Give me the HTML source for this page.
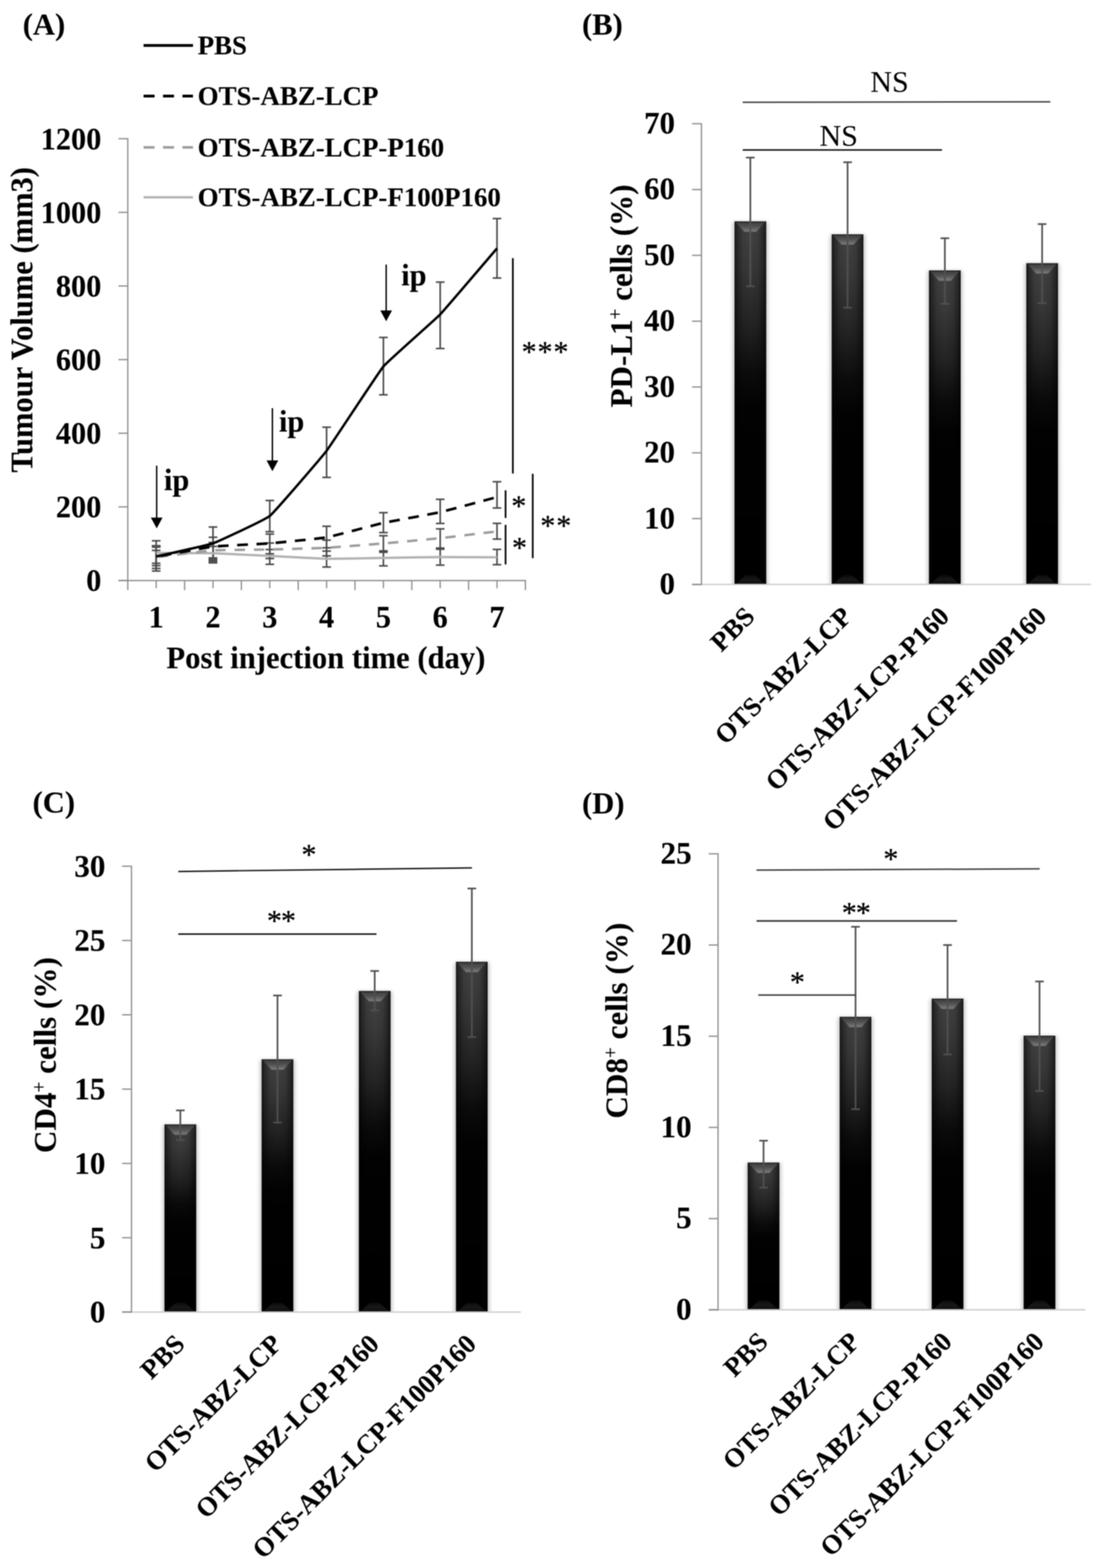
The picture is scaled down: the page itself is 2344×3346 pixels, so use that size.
<!DOCTYPE html>
<html lang="en">
<head>
<meta charset="utf-8">
<title>Figure: tumour volume and immune cell populations</title>
<style>
html, body { margin: 0; padding: 0; background: #ffffff; }
body { width: 2344px; height: 3346px; overflow: hidden; }
svg { display: block; filter: blur(0.8px); font-family: "Liberation Serif", serif; }
svg text { font-family: "Liberation Serif", serif; }
</style>
</head>
<body>
<svg width="2344" height="3346" viewBox="0 0 2344 3346">
<defs>
<linearGradient id="bg" x1="0" y1="0" x2="0" y2="1">
<stop offset="0" stop-color="#444444"/><stop offset="0.12" stop-color="#3a3a3a"/><stop offset="0.28" stop-color="#242424"/><stop offset="0.42" stop-color="#0b0b0b"/><stop offset="0.52" stop-color="#020202"/><stop offset="1" stop-color="#000"/>
</linearGradient>
<linearGradient id="bh" x1="0" y1="0" x2="1" y2="0">
<stop offset="0" stop-color="#000" stop-opacity="0.8"/><stop offset="0.06" stop-color="#000" stop-opacity="0.45"/><stop offset="0.25" stop-color="#000" stop-opacity="0.1"/><stop offset="0.5" stop-color="#000" stop-opacity="0"/><stop offset="0.75" stop-color="#000" stop-opacity="0.1"/><stop offset="0.94" stop-color="#000" stop-opacity="0.45"/><stop offset="1" stop-color="#000" stop-opacity="0.8"/>
</linearGradient>
<linearGradient id="bv" x1="0" y1="0" x2="0" y2="1">
<stop offset="0" stop-color="#3c3c3c"/><stop offset="0.45" stop-color="#505050"/><stop offset="1" stop-color="#7c7c7c"/>
</linearGradient>
<linearGradient id="bb" x1="0" y1="0" x2="0" y2="1">
<stop offset="0" stop-color="#0a0a0a"/><stop offset="0.5" stop-color="#181818"/><stop offset="1" stop-color="#0e0e0e"/>
</linearGradient>
<filter id="sh" x="-30%" y="-5%" width="160%" height="110%"><feGaussianBlur stdDeviation="4"/></filter>
</defs>
<rect x="0" y="0" width="2344" height="3346" fill="#ffffff"/>
<g id="fig">
<text x="48.5" y="73.5" font-size="65.3" font-weight="bold" text-anchor="start" fill="#000" stroke="#000" stroke-width="0.15">(A)</text>
<line x1="306.5" y1="97.0" x2="412.0" y2="97.0" stroke="#000" stroke-width="6"/>
<text x="422.0" y="116.0" font-size="57.4" font-weight="bold" text-anchor="start" fill="#000" stroke="#000" stroke-width="0.15">PBS</text>
<line x1="306.5" y1="205.0" x2="412.0" y2="205.0" stroke="#000" stroke-width="6" stroke-dasharray="23.5 18"/>
<text x="422.0" y="224.0" font-size="57.4" font-weight="bold" text-anchor="start" fill="#000" stroke="#000" stroke-width="0.15">OTS-ABZ-LCP</text>
<line x1="306.5" y1="314.5" x2="412.0" y2="314.5" stroke="#9c9c9c" stroke-width="5.6" stroke-dasharray="23.5 18"/>
<text x="422.0" y="333.5" font-size="57.4" font-weight="bold" text-anchor="start" fill="#000" stroke="#000" stroke-width="0.15">OTS-ABZ-LCP-P160</text>
<line x1="306.5" y1="421.0" x2="412.0" y2="421.0" stroke="#b2b2b2" stroke-width="5.2"/>
<text x="422.0" y="440.0" font-size="57.4" font-weight="bold" text-anchor="start" fill="#000" stroke="#000" stroke-width="0.15">OTS-ABZ-LCP-F100P160</text>
<line x1="272.8" y1="295.0" x2="272.8" y2="1240.3" stroke="#8c8c8c" stroke-width="2.7"/>
<line x1="252.8" y1="1238.8" x2="1123.1" y2="1238.8" stroke="#8c8c8c" stroke-width="2.7"/>
<line x1="252.8" y1="1238.8" x2="272.8" y2="1238.8" stroke="#8c8c8c" stroke-width="2.7"/>
<text transform="translate(216.3 1261.4) scale(0.962 1)" font-size="67.3" font-weight="bold" text-anchor="end" fill="#000" stroke="#000" stroke-width="0.15">0</text>
<line x1="252.8" y1="1081.7" x2="272.8" y2="1081.7" stroke="#8c8c8c" stroke-width="2.7"/>
<text transform="translate(216.3 1104.3) scale(0.962 1)" font-size="67.3" font-weight="bold" text-anchor="end" fill="#000" stroke="#000" stroke-width="0.15">200</text>
<line x1="252.8" y1="924.5" x2="272.8" y2="924.5" stroke="#8c8c8c" stroke-width="2.7"/>
<text transform="translate(216.3 947.1) scale(0.962 1)" font-size="67.3" font-weight="bold" text-anchor="end" fill="#000" stroke="#000" stroke-width="0.15">400</text>
<line x1="252.8" y1="767.4" x2="272.8" y2="767.4" stroke="#8c8c8c" stroke-width="2.7"/>
<text transform="translate(216.3 790.0) scale(0.962 1)" font-size="67.3" font-weight="bold" text-anchor="end" fill="#000" stroke="#000" stroke-width="0.15">600</text>
<line x1="252.8" y1="610.3" x2="272.8" y2="610.3" stroke="#8c8c8c" stroke-width="2.7"/>
<text transform="translate(216.3 632.9) scale(0.962 1)" font-size="67.3" font-weight="bold" text-anchor="end" fill="#000" stroke="#000" stroke-width="0.15">800</text>
<line x1="252.8" y1="453.1" x2="272.8" y2="453.1" stroke="#8c8c8c" stroke-width="2.7"/>
<text transform="translate(216.3 475.7) scale(0.962 1)" font-size="67.3" font-weight="bold" text-anchor="end" fill="#000" stroke="#000" stroke-width="0.15">1000</text>
<line x1="252.8" y1="296.0" x2="272.8" y2="296.0" stroke="#8c8c8c" stroke-width="2.7"/>
<text transform="translate(216.3 318.6) scale(0.962 1)" font-size="67.3" font-weight="bold" text-anchor="end" fill="#000" stroke="#000" stroke-width="0.15">1200</text>
<line x1="272.8" y1="1238.8" x2="272.8" y2="1259.3" stroke="#8c8c8c" stroke-width="2.7"/>
<line x1="333.4" y1="1238.8" x2="333.4" y2="1255.3" stroke="#8c8c8c" stroke-width="2.7"/>
<line x1="394.1" y1="1238.8" x2="394.1" y2="1259.3" stroke="#8c8c8c" stroke-width="2.7"/>
<line x1="454.7" y1="1238.8" x2="454.7" y2="1255.3" stroke="#8c8c8c" stroke-width="2.7"/>
<line x1="515.3" y1="1238.8" x2="515.3" y2="1259.3" stroke="#8c8c8c" stroke-width="2.7"/>
<line x1="575.9" y1="1238.8" x2="575.9" y2="1255.3" stroke="#8c8c8c" stroke-width="2.7"/>
<line x1="636.6" y1="1238.8" x2="636.6" y2="1259.3" stroke="#8c8c8c" stroke-width="2.7"/>
<line x1="697.2" y1="1238.8" x2="697.2" y2="1255.3" stroke="#8c8c8c" stroke-width="2.7"/>
<line x1="757.8" y1="1238.8" x2="757.8" y2="1259.3" stroke="#8c8c8c" stroke-width="2.7"/>
<line x1="818.5" y1="1238.8" x2="818.5" y2="1255.3" stroke="#8c8c8c" stroke-width="2.7"/>
<line x1="879.1" y1="1238.8" x2="879.1" y2="1259.3" stroke="#8c8c8c" stroke-width="2.7"/>
<line x1="939.7" y1="1238.8" x2="939.7" y2="1255.3" stroke="#8c8c8c" stroke-width="2.7"/>
<line x1="1000.3" y1="1238.8" x2="1000.3" y2="1259.3" stroke="#8c8c8c" stroke-width="2.7"/>
<line x1="1061.0" y1="1238.8" x2="1061.0" y2="1255.3" stroke="#8c8c8c" stroke-width="2.7"/>
<line x1="1121.6" y1="1238.8" x2="1121.6" y2="1259.3" stroke="#8c8c8c" stroke-width="2.7"/>
<text transform="translate(333.4 1339.3) scale(0.962 1)" font-size="67.3" font-weight="bold" text-anchor="middle" fill="#000" stroke="#000" stroke-width="0.15">1</text>
<text transform="translate(454.7 1339.3) scale(0.962 1)" font-size="67.3" font-weight="bold" text-anchor="middle" fill="#000" stroke="#000" stroke-width="0.15">2</text>
<text transform="translate(575.9 1339.3) scale(0.962 1)" font-size="67.3" font-weight="bold" text-anchor="middle" fill="#000" stroke="#000" stroke-width="0.15">3</text>
<text transform="translate(697.2 1339.3) scale(0.962 1)" font-size="67.3" font-weight="bold" text-anchor="middle" fill="#000" stroke="#000" stroke-width="0.15">4</text>
<text transform="translate(818.5 1339.3) scale(0.962 1)" font-size="67.3" font-weight="bold" text-anchor="middle" fill="#000" stroke="#000" stroke-width="0.15">5</text>
<text transform="translate(939.7 1339.3) scale(0.962 1)" font-size="67.3" font-weight="bold" text-anchor="middle" fill="#000" stroke="#000" stroke-width="0.15">6</text>
<text transform="translate(1061.0 1339.3) scale(0.962 1)" font-size="67.3" font-weight="bold" text-anchor="middle" fill="#000" stroke="#000" stroke-width="0.15">7</text>
<text transform="translate(695.8 1425.5) scale(0.976 1)" font-size="67" font-weight="bold" text-anchor="middle" fill="#000" stroke="#000" stroke-width="0.15">Post injection time (day)</text>
<text transform="translate(69.0 682.5) rotate(-90) scale(0.976 1)" font-size="66.8" font-weight="bold" text-anchor="middle" fill="#000" stroke="#000" stroke-width="0.15">Tumour Volume (mm3)</text>
<line x1="333.4" y1="1154.0" x2="333.4" y2="1218.5" stroke="#4a4a4a" stroke-width="3.4"/>
<line x1="324.2" y1="1154.0" x2="342.7" y2="1154.0" stroke="#4a4a4a" stroke-width="3.4"/>
<line x1="324.2" y1="1218.5" x2="342.7" y2="1218.5" stroke="#4a4a4a" stroke-width="3.4"/>
<line x1="333.4" y1="1164.5" x2="333.4" y2="1213.0" stroke="#4a4a4a" stroke-width="3.4"/>
<line x1="324.2" y1="1164.5" x2="342.7" y2="1164.5" stroke="#4a4a4a" stroke-width="3.4"/>
<line x1="324.2" y1="1213.0" x2="342.7" y2="1213.0" stroke="#4a4a4a" stroke-width="3.4"/>
<line x1="333.4" y1="1167.5" x2="333.4" y2="1207.0" stroke="#4a4a4a" stroke-width="3.4"/>
<line x1="324.2" y1="1167.5" x2="342.7" y2="1167.5" stroke="#4a4a4a" stroke-width="3.4"/>
<line x1="324.2" y1="1207.0" x2="342.7" y2="1207.0" stroke="#4a4a4a" stroke-width="3.4"/>
<line x1="333.4" y1="1174.5" x2="333.4" y2="1202.0" stroke="#4a4a4a" stroke-width="3.4"/>
<line x1="324.2" y1="1174.5" x2="342.7" y2="1174.5" stroke="#4a4a4a" stroke-width="3.4"/>
<line x1="324.2" y1="1202.0" x2="342.7" y2="1202.0" stroke="#4a4a4a" stroke-width="3.4"/>
<line x1="454.7" y1="1124.6" x2="454.7" y2="1190.5" stroke="#4a4a4a" stroke-width="3.4"/>
<line x1="445.4" y1="1124.6" x2="463.9" y2="1124.6" stroke="#4a4a4a" stroke-width="3.4"/>
<line x1="445.4" y1="1190.5" x2="463.9" y2="1190.5" stroke="#4a4a4a" stroke-width="3.4"/>
<line x1="454.7" y1="1146.5" x2="454.7" y2="1194.0" stroke="#4a4a4a" stroke-width="3.4"/>
<line x1="445.4" y1="1146.5" x2="463.9" y2="1146.5" stroke="#4a4a4a" stroke-width="3.4"/>
<line x1="445.4" y1="1194.0" x2="463.9" y2="1194.0" stroke="#4a4a4a" stroke-width="3.4"/>
<line x1="454.7" y1="1157.5" x2="454.7" y2="1197.5" stroke="#4a4a4a" stroke-width="3.4"/>
<line x1="445.4" y1="1157.5" x2="463.9" y2="1157.5" stroke="#4a4a4a" stroke-width="3.4"/>
<line x1="445.4" y1="1197.5" x2="463.9" y2="1197.5" stroke="#4a4a4a" stroke-width="3.4"/>
<line x1="454.7" y1="1166.0" x2="454.7" y2="1201.0" stroke="#4a4a4a" stroke-width="3.4"/>
<line x1="445.4" y1="1166.0" x2="463.9" y2="1166.0" stroke="#4a4a4a" stroke-width="3.4"/>
<line x1="445.4" y1="1201.0" x2="463.9" y2="1201.0" stroke="#4a4a4a" stroke-width="3.4"/>
<line x1="575.9" y1="1068.0" x2="575.9" y2="1134.6" stroke="#4a4a4a" stroke-width="3.4"/>
<line x1="566.7" y1="1068.0" x2="585.2" y2="1068.0" stroke="#4a4a4a" stroke-width="3.4"/>
<line x1="566.7" y1="1134.6" x2="585.2" y2="1134.6" stroke="#4a4a4a" stroke-width="3.4"/>
<line x1="575.9" y1="1139.6" x2="575.9" y2="1181.8" stroke="#4a4a4a" stroke-width="3.4"/>
<line x1="566.7" y1="1139.6" x2="585.2" y2="1139.6" stroke="#4a4a4a" stroke-width="3.4"/>
<line x1="566.7" y1="1181.8" x2="585.2" y2="1181.8" stroke="#4a4a4a" stroke-width="3.4"/>
<line x1="575.9" y1="1158.7" x2="575.9" y2="1191.8" stroke="#4a4a4a" stroke-width="3.4"/>
<line x1="566.7" y1="1158.7" x2="585.2" y2="1158.7" stroke="#4a4a4a" stroke-width="3.4"/>
<line x1="566.7" y1="1191.8" x2="585.2" y2="1191.8" stroke="#4a4a4a" stroke-width="3.4"/>
<line x1="575.9" y1="1172.6" x2="575.9" y2="1204.2" stroke="#4a4a4a" stroke-width="3.4"/>
<line x1="566.7" y1="1172.6" x2="585.2" y2="1172.6" stroke="#4a4a4a" stroke-width="3.4"/>
<line x1="566.7" y1="1204.2" x2="585.2" y2="1204.2" stroke="#4a4a4a" stroke-width="3.4"/>
<line x1="697.2" y1="911.6" x2="697.2" y2="1018.7" stroke="#4a4a4a" stroke-width="3.4"/>
<line x1="688.0" y1="911.6" x2="706.5" y2="911.6" stroke="#4a4a4a" stroke-width="3.4"/>
<line x1="688.0" y1="1018.7" x2="706.5" y2="1018.7" stroke="#4a4a4a" stroke-width="3.4"/>
<line x1="697.2" y1="1123.0" x2="697.2" y2="1169.0" stroke="#4a4a4a" stroke-width="3.4"/>
<line x1="688.0" y1="1123.0" x2="706.5" y2="1123.0" stroke="#4a4a4a" stroke-width="3.4"/>
<line x1="688.0" y1="1169.0" x2="706.5" y2="1169.0" stroke="#4a4a4a" stroke-width="3.4"/>
<line x1="697.2" y1="1152.6" x2="697.2" y2="1186.2" stroke="#4a4a4a" stroke-width="3.4"/>
<line x1="688.0" y1="1152.6" x2="706.5" y2="1152.6" stroke="#4a4a4a" stroke-width="3.4"/>
<line x1="688.0" y1="1186.2" x2="706.5" y2="1186.2" stroke="#4a4a4a" stroke-width="3.4"/>
<line x1="697.2" y1="1176.0" x2="697.2" y2="1210.0" stroke="#4a4a4a" stroke-width="3.4"/>
<line x1="688.0" y1="1176.0" x2="706.5" y2="1176.0" stroke="#4a4a4a" stroke-width="3.4"/>
<line x1="688.0" y1="1210.0" x2="706.5" y2="1210.0" stroke="#4a4a4a" stroke-width="3.4"/>
<line x1="818.5" y1="720.1" x2="818.5" y2="842.5" stroke="#4a4a4a" stroke-width="3.4"/>
<line x1="809.2" y1="720.1" x2="827.7" y2="720.1" stroke="#4a4a4a" stroke-width="3.4"/>
<line x1="809.2" y1="842.5" x2="827.7" y2="842.5" stroke="#4a4a4a" stroke-width="3.4"/>
<line x1="818.5" y1="1094.0" x2="818.5" y2="1136.5" stroke="#4a4a4a" stroke-width="3.4"/>
<line x1="809.2" y1="1094.0" x2="827.7" y2="1094.0" stroke="#4a4a4a" stroke-width="3.4"/>
<line x1="809.2" y1="1136.5" x2="827.7" y2="1136.5" stroke="#4a4a4a" stroke-width="3.4"/>
<line x1="818.5" y1="1143.2" x2="818.5" y2="1175.5" stroke="#4a4a4a" stroke-width="3.4"/>
<line x1="809.2" y1="1143.2" x2="827.7" y2="1143.2" stroke="#4a4a4a" stroke-width="3.4"/>
<line x1="809.2" y1="1175.5" x2="827.7" y2="1175.5" stroke="#4a4a4a" stroke-width="3.4"/>
<line x1="818.5" y1="1178.5" x2="818.5" y2="1207.5" stroke="#4a4a4a" stroke-width="3.4"/>
<line x1="809.2" y1="1178.5" x2="827.7" y2="1178.5" stroke="#4a4a4a" stroke-width="3.4"/>
<line x1="809.2" y1="1207.5" x2="827.7" y2="1207.5" stroke="#4a4a4a" stroke-width="3.4"/>
<line x1="939.7" y1="602.0" x2="939.7" y2="743.7" stroke="#4a4a4a" stroke-width="3.4"/>
<line x1="930.5" y1="602.0" x2="949.0" y2="602.0" stroke="#4a4a4a" stroke-width="3.4"/>
<line x1="930.5" y1="743.7" x2="949.0" y2="743.7" stroke="#4a4a4a" stroke-width="3.4"/>
<line x1="939.7" y1="1065.5" x2="939.7" y2="1117.0" stroke="#4a4a4a" stroke-width="3.4"/>
<line x1="930.5" y1="1065.5" x2="949.0" y2="1065.5" stroke="#4a4a4a" stroke-width="3.4"/>
<line x1="930.5" y1="1117.0" x2="949.0" y2="1117.0" stroke="#4a4a4a" stroke-width="3.4"/>
<line x1="939.7" y1="1128.6" x2="939.7" y2="1169.5" stroke="#4a4a4a" stroke-width="3.4"/>
<line x1="930.5" y1="1128.6" x2="949.0" y2="1128.6" stroke="#4a4a4a" stroke-width="3.4"/>
<line x1="930.5" y1="1169.5" x2="949.0" y2="1169.5" stroke="#4a4a4a" stroke-width="3.4"/>
<line x1="939.7" y1="1172.0" x2="939.7" y2="1205.9" stroke="#4a4a4a" stroke-width="3.4"/>
<line x1="930.5" y1="1172.0" x2="949.0" y2="1172.0" stroke="#4a4a4a" stroke-width="3.4"/>
<line x1="930.5" y1="1205.9" x2="949.0" y2="1205.9" stroke="#4a4a4a" stroke-width="3.4"/>
<line x1="1061.0" y1="466.4" x2="1061.0" y2="593.3" stroke="#4a4a4a" stroke-width="3.4"/>
<line x1="1051.7" y1="466.4" x2="1070.2" y2="466.4" stroke="#4a4a4a" stroke-width="3.4"/>
<line x1="1051.7" y1="593.3" x2="1070.2" y2="593.3" stroke="#4a4a4a" stroke-width="3.4"/>
<line x1="1061.0" y1="1028.0" x2="1061.0" y2="1084.0" stroke="#4a4a4a" stroke-width="3.4"/>
<line x1="1051.7" y1="1028.0" x2="1070.2" y2="1028.0" stroke="#4a4a4a" stroke-width="3.4"/>
<line x1="1051.7" y1="1084.0" x2="1070.2" y2="1084.0" stroke="#4a4a4a" stroke-width="3.4"/>
<line x1="1061.0" y1="1116.8" x2="1061.0" y2="1150.4" stroke="#4a4a4a" stroke-width="3.4"/>
<line x1="1051.7" y1="1116.8" x2="1070.2" y2="1116.8" stroke="#4a4a4a" stroke-width="3.4"/>
<line x1="1051.7" y1="1150.4" x2="1070.2" y2="1150.4" stroke="#4a4a4a" stroke-width="3.4"/>
<line x1="1061.0" y1="1172.4" x2="1061.0" y2="1205.0" stroke="#4a4a4a" stroke-width="3.4"/>
<line x1="1051.7" y1="1172.4" x2="1070.2" y2="1172.4" stroke="#4a4a4a" stroke-width="3.4"/>
<line x1="1051.7" y1="1205.0" x2="1070.2" y2="1205.0" stroke="#4a4a4a" stroke-width="3.4"/>
<rect x="445.4" y="1189" width="18.6" height="13.5" fill="#505050"/>
<rect x="324.1" y="1163.5" width="18.6" height="5.5" fill="#505050"/>
<path d="M333.4,1179.9 C338.7,1179.9 444.2,1180.3 454.7,1180.6 C465.2,1180.9 565.4,1185.8 575.9,1186.3 C586.5,1186.8 686.7,1192.4 697.2,1192.6 C707.7,1192.8 807.9,1190.7 818.5,1190.5 C829.0,1190.3 929.2,1188.8 939.7,1188.7 C950.2,1188.6 1055.7,1189.2 1061.0,1189.2" fill="none" stroke="#b2b2b2" stroke-width="5.0" stroke-linejoin="round"/>
<path d="M333.4,1189.0 C338.7,1188.4 444.2,1175.1 454.7,1174.4 C465.2,1173.7 565.4,1172.8 575.9,1172.6 C586.5,1172.4 686.7,1169.6 697.2,1169.0 C707.7,1168.4 807.9,1160.6 818.5,1159.7 C829.0,1158.8 929.2,1149.5 939.7,1148.4 C950.2,1147.3 1055.7,1134.6 1061.0,1134.0" fill="none" stroke="#9c9c9c" stroke-width="5.2" stroke-linejoin="round" stroke-dasharray="22 19" stroke-dashoffset="36.7"/>
<path d="M333.4,1188.0 C338.7,1187.1 444.2,1167.6 454.7,1166.4 C465.2,1165.2 565.4,1160.3 575.9,1159.5 C586.5,1158.7 686.7,1148.7 697.2,1146.8 C707.7,1144.9 807.9,1118.1 818.5,1115.8 C829.0,1113.5 929.2,1095.4 939.7,1093.0 C950.2,1090.6 1055.7,1062.2 1061.0,1060.8" fill="none" stroke="#000" stroke-width="5.6" stroke-linejoin="round" stroke-dasharray="22.8 18.4" stroke-dashoffset="31"/>
<path d="M333.4,1187.5 C338.7,1186.3 444.2,1163.2 454.7,1159.5 C465.2,1155.8 565.4,1109.6 575.9,1101.0 C586.5,1092.4 686.7,975.8 697.2,962.0 C707.7,948.2 807.9,794.6 818.5,782.0 C829.0,769.4 929.2,681.9 939.7,671.0 C950.2,660.1 1055.7,536.1 1061.0,530.0" fill="none" stroke="#000" stroke-width="5.2" stroke-linejoin="round"/>
<line x1="334.5" y1="993.7" x2="334.5" y2="1113.5" stroke="#000" stroke-width="3.0"/>
<path d="M322.0,1104.5 L347.0,1104.5 L334.5,1127.5 Z" fill="#000"/>
<text x="350.0" y="1046.0" font-size="65" font-weight="bold" text-anchor="start" fill="#000" stroke="#000" stroke-width="0.15">ip</text>
<line x1="581.5" y1="871.0" x2="581.5" y2="991.5" stroke="#000" stroke-width="3.0"/>
<path d="M569.0,982.5 L594.0,982.5 L581.5,1005.5 Z" fill="#000"/>
<text x="595.5" y="921.0" font-size="65" font-weight="bold" text-anchor="start" fill="#000" stroke="#000" stroke-width="0.15">ip</text>
<line x1="824.4" y1="564.5" x2="824.4" y2="671.5" stroke="#000" stroke-width="3.0"/>
<path d="M811.9,662.5 L836.9,662.5 L824.4,685.5 Z" fill="#000"/>
<text x="856.5" y="609.0" font-size="65" font-weight="bold" text-anchor="start" fill="#000" stroke="#000" stroke-width="0.15">ip</text>
<line x1="1094.8" y1="550.7" x2="1094.8" y2="1010.4" stroke="#000" stroke-width="3.6"/>
<text x="1113.5" y="772.0" font-size="64" font-weight="normal" text-anchor="start" fill="#000" letter-spacing="2" stroke="#000" stroke-width="0.6">***</text>
<line x1="1079.3" y1="1046.3" x2="1079.3" y2="1105.3" stroke="#000" stroke-width="3.6"/>
<line x1="1079.3" y1="1120.0" x2="1079.3" y2="1204.5" stroke="#000" stroke-width="3.6"/>
<text x="1091.5" y="1101.0" font-size="64" font-weight="normal" text-anchor="start" fill="#000" stroke="#000" stroke-width="0.6">*</text>
<text x="1093.0" y="1190.0" font-size="64" font-weight="normal" text-anchor="start" fill="#000" stroke="#000" stroke-width="0.6">*</text>
<line x1="1137.3" y1="1011.0" x2="1137.3" y2="1191.0" stroke="#000" stroke-width="3.6"/>
<text x="1153.5" y="1143.0" font-size="64" font-weight="normal" text-anchor="start" fill="#000" letter-spacing="2" stroke="#000" stroke-width="0.6">**</text>
<text x="1242.5" y="74.0" font-size="65.3" font-weight="bold" text-anchor="start" fill="#000" stroke="#000" stroke-width="0.15">(B)</text>
<clipPath id="clipB"><rect x="1497.4" y="204.0" width="831.9" height="1042.2"/></clipPath>
<g clip-path="url(#clipB)">
<rect x="1564.6" y="473.6" width="74.4" height="793.6" fill="#000" opacity="0.24" filter="url(#sh)"/>
<rect x="1568.1" y="472.6" width="67.4" height="773.6" fill="url(#bg)"/>
<rect x="1568.1" y="472.6" width="67.4" height="773.6" fill="url(#bh)"/>
<path d="M1570.1,473.6 L1633.5,473.6 L1614.5,494.6 L1589.1,494.6 Z" fill="url(#bv)"/>
<rect x="1568.1" y="472.6" width="67.4" height="2" fill="#1e1e1e"/>
<path d="M1571.1,1246.2 L1632.5,1246.2 L1611.5,1227.2 L1592.1,1227.2 Z" fill="url(#bb)"/>
<rect x="1772.2" y="501.0" width="74.4" height="766.2" fill="#000" opacity="0.24" filter="url(#sh)"/>
<rect x="1775.7" y="500.0" width="67.4" height="746.2" fill="url(#bg)"/>
<rect x="1775.7" y="500.0" width="67.4" height="746.2" fill="url(#bh)"/>
<path d="M1777.7,501.0 L1841.1,501.0 L1822.1,522.0 L1796.7,522.0 Z" fill="url(#bv)"/>
<rect x="1775.7" y="500.0" width="67.4" height="2" fill="#1e1e1e"/>
<path d="M1778.7,1246.2 L1840.1,1246.2 L1819.1,1227.2 L1799.7,1227.2 Z" fill="url(#bb)"/>
<rect x="1979.9" y="578.2" width="74.4" height="689.0" fill="#000" opacity="0.24" filter="url(#sh)"/>
<rect x="1983.4" y="577.2" width="67.4" height="669.0" fill="url(#bg)"/>
<rect x="1983.4" y="577.2" width="67.4" height="669.0" fill="url(#bh)"/>
<path d="M1985.4,578.2 L2048.8,578.2 L2029.8,599.2 L2004.4,599.2 Z" fill="url(#bv)"/>
<rect x="1983.4" y="577.2" width="67.4" height="2" fill="#1e1e1e"/>
<path d="M1986.4,1246.2 L2047.8,1246.2 L2026.8,1227.2 L2007.4,1227.2 Z" fill="url(#bb)"/>
<rect x="2187.5" y="562.8" width="74.4" height="704.4" fill="#000" opacity="0.24" filter="url(#sh)"/>
<rect x="2191.0" y="561.8" width="67.4" height="684.4" fill="url(#bg)"/>
<rect x="2191.0" y="561.8" width="67.4" height="684.4" fill="url(#bh)"/>
<path d="M2193.0,562.8 L2256.4,562.8 L2237.4,583.8 L2212.0,583.8 Z" fill="url(#bv)"/>
<rect x="2191.0" y="561.8" width="67.4" height="2" fill="#1e1e1e"/>
<path d="M2194.0,1246.2 L2255.4,1246.2 L2234.4,1227.2 L2215.0,1227.2 Z" fill="url(#bb)"/>
</g>
<line x1="1477.4" y1="1247.2" x2="2329.3" y2="1247.2" stroke="#cbcbcb" stroke-width="2.8"/>
<line x1="1497.4" y1="263.0" x2="1497.4" y2="1248.7" stroke="#8c8c8c" stroke-width="2.7"/>
<line x1="1477.4" y1="1247.2" x2="1497.4" y2="1247.2" stroke="#8c8c8c" stroke-width="2.7"/>
<line x1="1477.4" y1="1247.2" x2="1497.4" y2="1247.2" stroke="#8c8c8c" stroke-width="2.7"/>
<text transform="translate(1441.0 1268.0) scale(0.98 1)" font-size="67.3" font-weight="bold" text-anchor="end" fill="#000" stroke="#000" stroke-width="0.15">0</text>
<line x1="1477.4" y1="1106.7" x2="1497.4" y2="1106.7" stroke="#8c8c8c" stroke-width="2.7"/>
<text transform="translate(1441.0 1127.5) scale(0.98 1)" font-size="67.3" font-weight="bold" text-anchor="end" fill="#000" stroke="#000" stroke-width="0.15">10</text>
<line x1="1477.4" y1="966.3" x2="1497.4" y2="966.3" stroke="#8c8c8c" stroke-width="2.7"/>
<text transform="translate(1441.0 987.1) scale(0.98 1)" font-size="67.3" font-weight="bold" text-anchor="end" fill="#000" stroke="#000" stroke-width="0.15">20</text>
<line x1="1477.4" y1="825.8" x2="1497.4" y2="825.8" stroke="#8c8c8c" stroke-width="2.7"/>
<text transform="translate(1441.0 846.6) scale(0.98 1)" font-size="67.3" font-weight="bold" text-anchor="end" fill="#000" stroke="#000" stroke-width="0.15">30</text>
<line x1="1477.4" y1="685.4" x2="1497.4" y2="685.4" stroke="#8c8c8c" stroke-width="2.7"/>
<text transform="translate(1441.0 706.2) scale(0.98 1)" font-size="67.3" font-weight="bold" text-anchor="end" fill="#000" stroke="#000" stroke-width="0.15">40</text>
<line x1="1477.4" y1="544.9" x2="1497.4" y2="544.9" stroke="#8c8c8c" stroke-width="2.7"/>
<text transform="translate(1441.0 565.7) scale(0.98 1)" font-size="67.3" font-weight="bold" text-anchor="end" fill="#000" stroke="#000" stroke-width="0.15">50</text>
<line x1="1477.4" y1="404.5" x2="1497.4" y2="404.5" stroke="#8c8c8c" stroke-width="2.7"/>
<text transform="translate(1441.0 425.3) scale(0.98 1)" font-size="67.3" font-weight="bold" text-anchor="end" fill="#000" stroke="#000" stroke-width="0.15">60</text>
<line x1="1477.4" y1="264.0" x2="1497.4" y2="264.0" stroke="#8c8c8c" stroke-width="2.7"/>
<text transform="translate(1441.0 284.8) scale(0.98 1)" font-size="67.3" font-weight="bold" text-anchor="end" fill="#000" stroke="#000" stroke-width="0.15">70</text>
<line x1="1601.8" y1="336.3" x2="1601.8" y2="610.9" stroke="#505050" stroke-width="3.6"/>
<line x1="1592.5" y1="336.3" x2="1611.0" y2="336.3" stroke="#505050" stroke-width="3.6"/>
<line x1="1592.5" y1="610.9" x2="1611.0" y2="610.9" stroke="#505050" stroke-width="3.6"/>
<line x1="1809.4" y1="346.2" x2="1809.4" y2="656.6" stroke="#505050" stroke-width="3.6"/>
<line x1="1800.2" y1="346.2" x2="1818.7" y2="346.2" stroke="#505050" stroke-width="3.6"/>
<line x1="1800.2" y1="656.6" x2="1818.7" y2="656.6" stroke="#505050" stroke-width="3.6"/>
<line x1="2017.1" y1="508.4" x2="2017.1" y2="648.2" stroke="#505050" stroke-width="3.6"/>
<line x1="2007.8" y1="508.4" x2="2026.3" y2="508.4" stroke="#505050" stroke-width="3.6"/>
<line x1="2007.8" y1="648.2" x2="2026.3" y2="648.2" stroke="#505050" stroke-width="3.6"/>
<line x1="2224.7" y1="478.2" x2="2224.7" y2="646.7" stroke="#505050" stroke-width="3.6"/>
<line x1="2215.4" y1="478.2" x2="2233.9" y2="478.2" stroke="#505050" stroke-width="3.6"/>
<line x1="2215.4" y1="646.7" x2="2233.9" y2="646.7" stroke="#505050" stroke-width="3.6"/>
<text x="1614.3" y="1318.7" font-size="57.4" font-weight="bold" text-anchor="end" fill="#000" transform="rotate(-45 1614.3 1318.7)" stroke="#000" stroke-width="0.15">PBS</text>
<text x="1821.9" y="1318.7" font-size="57.4" font-weight="bold" text-anchor="end" fill="#000" transform="rotate(-45 1821.9 1318.7)" stroke="#000" stroke-width="0.15">OTS-ABZ-LCP</text>
<text x="2029.6" y="1318.7" font-size="57.4" font-weight="bold" text-anchor="end" fill="#000" transform="rotate(-45 2029.6 1318.7)" stroke="#000" stroke-width="0.15">OTS-ABZ-LCP-P160</text>
<text x="2237.2" y="1318.7" font-size="57.4" font-weight="bold" text-anchor="end" fill="#000" transform="rotate(-45 2237.2 1318.7)" stroke="#000" stroke-width="0.15">OTS-ABZ-LCP-F100P160</text>
<text transform="translate(1348.5 631.5) rotate(-90) scale(0.976 1)" font-size="67.9" font-weight="bold" stroke="#000" stroke-width="0.15" text-anchor="middle">PD-L1<tspan font-size="42" font-weight="normal" stroke-width="0.3" dy="-22">+</tspan><tspan dy="22"> cells (%)</tspan></text>
<line x1="1585.5" y1="218.3" x2="2242.3" y2="217.2" stroke="#3a3a3a" stroke-width="3.0"/>
<text x="1899.0" y="195.8" font-size="64" font-weight="normal" text-anchor="middle" fill="#000">NS</text>
<line x1="1585.5" y1="320.0" x2="2011.0" y2="320.0" stroke="#000" stroke-width="2.9"/>
<text x="1790.5" y="311.2" font-size="64" font-weight="normal" text-anchor="middle" fill="#000">NS</text>
<text x="69.5" y="1734.0" font-size="65.3" font-weight="bold" text-anchor="start" fill="#000" stroke="#000" stroke-width="0.15">(C)</text>
<clipPath id="clipC"><rect x="280.7" y="1788.4" width="831.3" height="1010.4"/></clipPath>
<g clip-path="url(#clipC)">
<rect x="347.8" y="2400.6" width="74.4" height="419.2" fill="#000" opacity="0.24" filter="url(#sh)"/>
<rect x="351.3" y="2399.6" width="67.4" height="399.2" fill="url(#bg)"/>
<rect x="351.3" y="2399.6" width="67.4" height="399.2" fill="url(#bh)"/>
<path d="M353.3,2400.6 L416.7,2400.6 L397.7,2421.6 L372.3,2421.6 Z" fill="url(#bv)"/>
<rect x="351.3" y="2399.6" width="67.4" height="2" fill="#1e1e1e"/>
<path d="M354.3,2798.8 L415.7,2798.8 L394.7,2779.8 L375.3,2779.8 Z" fill="url(#bb)"/>
<rect x="555.2" y="2261.7" width="74.4" height="558.1" fill="#000" opacity="0.24" filter="url(#sh)"/>
<rect x="558.7" y="2260.7" width="67.4" height="538.1" fill="url(#bg)"/>
<rect x="558.7" y="2260.7" width="67.4" height="538.1" fill="url(#bh)"/>
<path d="M560.7,2261.7 L624.1,2261.7 L605.1,2282.7 L579.7,2282.7 Z" fill="url(#bv)"/>
<rect x="558.7" y="2260.7" width="67.4" height="2" fill="#1e1e1e"/>
<path d="M561.7,2798.8 L623.1,2798.8 L602.1,2779.8 L582.7,2779.8 Z" fill="url(#bb)"/>
<rect x="762.7" y="2115.8" width="74.4" height="704.0" fill="#000" opacity="0.24" filter="url(#sh)"/>
<rect x="766.2" y="2114.8" width="67.4" height="684.0" fill="url(#bg)"/>
<rect x="766.2" y="2114.8" width="67.4" height="684.0" fill="url(#bh)"/>
<path d="M768.2,2115.8 L831.6,2115.8 L812.6,2136.8 L787.2,2136.8 Z" fill="url(#bv)"/>
<rect x="766.2" y="2114.8" width="67.4" height="2" fill="#1e1e1e"/>
<path d="M769.2,2798.8 L830.6,2798.8 L809.6,2779.8 L790.2,2779.8 Z" fill="url(#bb)"/>
<rect x="970.1" y="2053.6" width="74.4" height="766.2" fill="#000" opacity="0.24" filter="url(#sh)"/>
<rect x="973.6" y="2052.6" width="67.4" height="746.2" fill="url(#bg)"/>
<rect x="973.6" y="2052.6" width="67.4" height="746.2" fill="url(#bh)"/>
<path d="M975.6,2053.6 L1039.0,2053.6 L1020.0,2074.6 L994.6,2074.6 Z" fill="url(#bv)"/>
<rect x="973.6" y="2052.6" width="67.4" height="2" fill="#1e1e1e"/>
<path d="M976.6,2798.8 L1038.0,2798.8 L1017.0,2779.8 L997.6,2779.8 Z" fill="url(#bb)"/>
</g>
<line x1="260.7" y1="2799.8" x2="1112.0" y2="2799.8" stroke="#cbcbcb" stroke-width="2.8"/>
<line x1="280.7" y1="1847.4" x2="280.7" y2="2801.3" stroke="#8c8c8c" stroke-width="2.7"/>
<line x1="260.7" y1="2799.8" x2="280.7" y2="2799.8" stroke="#8c8c8c" stroke-width="2.7"/>
<line x1="260.7" y1="2799.8" x2="280.7" y2="2799.8" stroke="#8c8c8c" stroke-width="2.7"/>
<text transform="translate(225.0 2822.1) scale(0.99 1)" font-size="67.3" font-weight="bold" text-anchor="end" fill="#000" stroke="#000" stroke-width="0.15">0</text>
<line x1="260.7" y1="2641.2" x2="280.7" y2="2641.2" stroke="#8c8c8c" stroke-width="2.7"/>
<text transform="translate(225.0 2663.5) scale(0.99 1)" font-size="67.3" font-weight="bold" text-anchor="end" fill="#000" stroke="#000" stroke-width="0.15">5</text>
<line x1="260.7" y1="2482.7" x2="280.7" y2="2482.7" stroke="#8c8c8c" stroke-width="2.7"/>
<text transform="translate(225.0 2505.0) scale(0.99 1)" font-size="67.3" font-weight="bold" text-anchor="end" fill="#000" stroke="#000" stroke-width="0.15">10</text>
<line x1="260.7" y1="2324.1" x2="280.7" y2="2324.1" stroke="#8c8c8c" stroke-width="2.7"/>
<text transform="translate(225.0 2346.4) scale(0.99 1)" font-size="67.3" font-weight="bold" text-anchor="end" fill="#000" stroke="#000" stroke-width="0.15">15</text>
<line x1="260.7" y1="2165.5" x2="280.7" y2="2165.5" stroke="#8c8c8c" stroke-width="2.7"/>
<text transform="translate(225.0 2187.8) scale(0.99 1)" font-size="67.3" font-weight="bold" text-anchor="end" fill="#000" stroke="#000" stroke-width="0.15">20</text>
<line x1="260.7" y1="2007.0" x2="280.7" y2="2007.0" stroke="#8c8c8c" stroke-width="2.7"/>
<text transform="translate(225.0 2029.3) scale(0.99 1)" font-size="67.3" font-weight="bold" text-anchor="end" fill="#000" stroke="#000" stroke-width="0.15">25</text>
<line x1="260.7" y1="1848.4" x2="280.7" y2="1848.4" stroke="#8c8c8c" stroke-width="2.7"/>
<text transform="translate(225.0 1870.7) scale(0.99 1)" font-size="67.3" font-weight="bold" text-anchor="end" fill="#000" stroke="#000" stroke-width="0.15">30</text>
<line x1="385.0" y1="2369.5" x2="385.0" y2="2432.9" stroke="#505050" stroke-width="3.6"/>
<line x1="375.8" y1="2369.5" x2="394.2" y2="2369.5" stroke="#505050" stroke-width="3.6"/>
<line x1="375.8" y1="2432.9" x2="394.2" y2="2432.9" stroke="#505050" stroke-width="3.6"/>
<line x1="592.4" y1="2124.3" x2="592.4" y2="2395.5" stroke="#505050" stroke-width="3.6"/>
<line x1="583.2" y1="2124.3" x2="601.7" y2="2124.3" stroke="#505050" stroke-width="3.6"/>
<line x1="583.2" y1="2395.5" x2="601.7" y2="2395.5" stroke="#505050" stroke-width="3.6"/>
<line x1="799.9" y1="2072.0" x2="799.9" y2="2156.0" stroke="#505050" stroke-width="3.6"/>
<line x1="790.6" y1="2072.0" x2="809.1" y2="2072.0" stroke="#505050" stroke-width="3.6"/>
<line x1="790.6" y1="2156.0" x2="809.1" y2="2156.0" stroke="#505050" stroke-width="3.6"/>
<line x1="1007.3" y1="1896.0" x2="1007.3" y2="2213.1" stroke="#505050" stroke-width="3.6"/>
<line x1="998.0" y1="1896.0" x2="1016.5" y2="1896.0" stroke="#505050" stroke-width="3.6"/>
<line x1="998.0" y1="2213.1" x2="1016.5" y2="2213.1" stroke="#505050" stroke-width="3.6"/>
<text x="397.5" y="2871.3" font-size="57.4" font-weight="bold" text-anchor="end" fill="#000" transform="rotate(-45 397.5 2871.3)" stroke="#000" stroke-width="0.15">PBS</text>
<text x="604.9" y="2871.3" font-size="57.4" font-weight="bold" text-anchor="end" fill="#000" transform="rotate(-45 604.9 2871.3)" stroke="#000" stroke-width="0.15">OTS-ABZ-LCP</text>
<text x="812.4" y="2871.3" font-size="57.4" font-weight="bold" text-anchor="end" fill="#000" transform="rotate(-45 812.4 2871.3)" stroke="#000" stroke-width="0.15">OTS-ABZ-LCP-P160</text>
<text x="1019.8" y="2871.3" font-size="57.4" font-weight="bold" text-anchor="end" fill="#000" transform="rotate(-45 1019.8 2871.3)" stroke="#000" stroke-width="0.15">OTS-ABZ-LCP-F100P160</text>
<text transform="translate(119.0 2251.5) rotate(-90) scale(0.976 1)" font-size="68.1" font-weight="bold" stroke="#000" stroke-width="0.15" text-anchor="middle">CD4<tspan font-size="42" font-weight="normal" stroke-width="0.3" dy="-22">+</tspan><tspan dy="22"> cells (%)</tspan></text>
<line x1="380.6" y1="1859.7" x2="1007.5" y2="1852.0" stroke="#111" stroke-width="2.9"/>
<text x="659.4" y="1844.7" font-size="64" font-weight="normal" text-anchor="middle" fill="#000" stroke="#000" stroke-width="0.6">*</text>
<line x1="380.6" y1="1993.3" x2="803.7" y2="1993.3" stroke="#000" stroke-width="2.9"/>
<text x="599.8" y="1986.3" font-size="64" font-weight="normal" text-anchor="middle" fill="#000" letter-spacing="-2" stroke="#000" stroke-width="0.6">**</text>
<text x="1242.5" y="1736.0" font-size="65.3" font-weight="bold" text-anchor="start" fill="#000" stroke="#000" stroke-width="0.15">(D)</text>
<clipPath id="clipD"><rect x="1532.9" y="1762.0" width="784.1" height="1032.0"/></clipPath>
<g clip-path="url(#clipD)">
<rect x="1592.8" y="2481.9" width="74.4" height="333.1" fill="#000" opacity="0.24" filter="url(#sh)"/>
<rect x="1596.3" y="2480.9" width="67.4" height="313.1" fill="url(#bg)"/>
<rect x="1596.3" y="2480.9" width="67.4" height="313.1" fill="url(#bh)"/>
<path d="M1598.3,2481.9 L1661.7,2481.9 L1642.7,2502.9 L1617.3,2502.9 Z" fill="url(#bv)"/>
<rect x="1596.3" y="2480.9" width="67.4" height="2" fill="#1e1e1e"/>
<path d="M1599.3,2794.0 L1660.7,2794.0 L1639.7,2775.0 L1620.3,2775.0 Z" fill="url(#bb)"/>
<rect x="1789.2" y="2170.9" width="74.4" height="644.1" fill="#000" opacity="0.24" filter="url(#sh)"/>
<rect x="1792.7" y="2169.9" width="67.4" height="624.1" fill="url(#bg)"/>
<rect x="1792.7" y="2169.9" width="67.4" height="624.1" fill="url(#bh)"/>
<path d="M1794.7,2170.9 L1858.1,2170.9 L1839.1,2191.9 L1813.7,2191.9 Z" fill="url(#bv)"/>
<rect x="1792.7" y="2169.9" width="67.4" height="2" fill="#1e1e1e"/>
<path d="M1795.7,2794.0 L1857.1,2794.0 L1836.1,2775.0 L1816.7,2775.0 Z" fill="url(#bb)"/>
<rect x="1985.6" y="2132.0" width="74.4" height="683.0" fill="#000" opacity="0.24" filter="url(#sh)"/>
<rect x="1989.1" y="2131.0" width="67.4" height="663.0" fill="url(#bg)"/>
<rect x="1989.1" y="2131.0" width="67.4" height="663.0" fill="url(#bh)"/>
<path d="M1991.1,2132.0 L2054.5,2132.0 L2035.5,2153.0 L2010.1,2153.0 Z" fill="url(#bv)"/>
<rect x="1989.1" y="2131.0" width="67.4" height="2" fill="#1e1e1e"/>
<path d="M1992.1,2794.0 L2053.5,2794.0 L2032.5,2775.0 L2013.1,2775.0 Z" fill="url(#bb)"/>
<rect x="2182.0" y="2211.0" width="74.4" height="604.0" fill="#000" opacity="0.24" filter="url(#sh)"/>
<rect x="2185.5" y="2210.0" width="67.4" height="584.0" fill="url(#bg)"/>
<rect x="2185.5" y="2210.0" width="67.4" height="584.0" fill="url(#bh)"/>
<path d="M2187.5,2211.0 L2250.9,2211.0 L2231.9,2232.0 L2206.5,2232.0 Z" fill="url(#bv)"/>
<rect x="2185.5" y="2210.0" width="67.4" height="2" fill="#1e1e1e"/>
<path d="M2188.5,2794.0 L2249.9,2794.0 L2228.9,2775.0 L2209.5,2775.0 Z" fill="url(#bb)"/>
</g>
<line x1="1512.9" y1="2795.0" x2="2317.0" y2="2795.0" stroke="#cbcbcb" stroke-width="2.8"/>
<line x1="1532.9" y1="1821.0" x2="1532.9" y2="2796.5" stroke="#8c8c8c" stroke-width="2.7"/>
<line x1="1512.9" y1="2795.0" x2="1532.9" y2="2795.0" stroke="#8c8c8c" stroke-width="2.7"/>
<line x1="1512.9" y1="2795.0" x2="1532.9" y2="2795.0" stroke="#8c8c8c" stroke-width="2.7"/>
<text transform="translate(1476.5 2815.8) scale(0.99 1)" font-size="67.3" font-weight="bold" text-anchor="end" fill="#000" stroke="#000" stroke-width="0.15">0</text>
<line x1="1512.9" y1="2600.4" x2="1532.9" y2="2600.4" stroke="#8c8c8c" stroke-width="2.7"/>
<text transform="translate(1476.5 2621.2) scale(0.99 1)" font-size="67.3" font-weight="bold" text-anchor="end" fill="#000" stroke="#000" stroke-width="0.15">5</text>
<line x1="1512.9" y1="2405.8" x2="1532.9" y2="2405.8" stroke="#8c8c8c" stroke-width="2.7"/>
<text transform="translate(1476.5 2426.6) scale(0.99 1)" font-size="67.3" font-weight="bold" text-anchor="end" fill="#000" stroke="#000" stroke-width="0.15">10</text>
<line x1="1512.9" y1="2211.2" x2="1532.9" y2="2211.2" stroke="#8c8c8c" stroke-width="2.7"/>
<text transform="translate(1476.5 2232.0) scale(0.99 1)" font-size="67.3" font-weight="bold" text-anchor="end" fill="#000" stroke="#000" stroke-width="0.15">15</text>
<line x1="1512.9" y1="2016.6" x2="1532.9" y2="2016.6" stroke="#8c8c8c" stroke-width="2.7"/>
<text transform="translate(1476.5 2037.4) scale(0.99 1)" font-size="67.3" font-weight="bold" text-anchor="end" fill="#000" stroke="#000" stroke-width="0.15">20</text>
<line x1="1512.9" y1="1822.0" x2="1532.9" y2="1822.0" stroke="#8c8c8c" stroke-width="2.7"/>
<text transform="translate(1476.5 1842.8) scale(0.99 1)" font-size="67.3" font-weight="bold" text-anchor="end" fill="#000" stroke="#000" stroke-width="0.15">25</text>
<line x1="1630.0" y1="2434.2" x2="1630.0" y2="2534.2" stroke="#505050" stroke-width="3.6"/>
<line x1="1620.8" y1="2434.2" x2="1639.2" y2="2434.2" stroke="#505050" stroke-width="3.6"/>
<line x1="1620.8" y1="2534.2" x2="1639.2" y2="2534.2" stroke="#505050" stroke-width="3.6"/>
<line x1="1826.4" y1="1977.7" x2="1826.4" y2="2366.9" stroke="#505050" stroke-width="3.6"/>
<line x1="1817.1" y1="1977.7" x2="1835.6" y2="1977.7" stroke="#505050" stroke-width="3.6"/>
<line x1="1817.1" y1="2366.9" x2="1835.6" y2="2366.9" stroke="#505050" stroke-width="3.6"/>
<line x1="2022.8" y1="2016.6" x2="2022.8" y2="2250.1" stroke="#505050" stroke-width="3.6"/>
<line x1="2013.5" y1="2016.6" x2="2032.0" y2="2016.6" stroke="#505050" stroke-width="3.6"/>
<line x1="2013.5" y1="2250.1" x2="2032.0" y2="2250.1" stroke="#505050" stroke-width="3.6"/>
<line x1="2219.2" y1="2094.4" x2="2219.2" y2="2328.0" stroke="#505050" stroke-width="3.6"/>
<line x1="2209.9" y1="2094.4" x2="2228.4" y2="2094.4" stroke="#505050" stroke-width="3.6"/>
<line x1="2209.9" y1="2328.0" x2="2228.4" y2="2328.0" stroke="#505050" stroke-width="3.6"/>
<text x="1642.5" y="2866.5" font-size="57.4" font-weight="bold" text-anchor="end" fill="#000" transform="rotate(-45 1642.5 2866.5)" stroke="#000" stroke-width="0.15">PBS</text>
<text x="1838.9" y="2866.5" font-size="57.4" font-weight="bold" text-anchor="end" fill="#000" transform="rotate(-45 1838.9 2866.5)" stroke="#000" stroke-width="0.15">OTS-ABZ-LCP</text>
<text x="2035.3" y="2866.5" font-size="57.4" font-weight="bold" text-anchor="end" fill="#000" transform="rotate(-45 2035.3 2866.5)" stroke="#000" stroke-width="0.15">OTS-ABZ-LCP-P160</text>
<text x="2231.7" y="2866.5" font-size="57.4" font-weight="bold" text-anchor="end" fill="#000" transform="rotate(-45 2231.7 2866.5)" stroke="#000" stroke-width="0.15">OTS-ABZ-LCP-F100P160</text>
<text transform="translate(1339.0 2178.0) rotate(-90) scale(0.976 1)" font-size="68.1" font-weight="bold" stroke="#000" stroke-width="0.15" text-anchor="middle">CD8<tspan font-size="42" font-weight="normal" stroke-width="0.3" dy="-22">+</tspan><tspan dy="22"> cells (%)</tspan></text>
<line x1="1615.0" y1="1856.8" x2="2219.5" y2="1854.0" stroke="#383838" stroke-width="3.0"/>
<text x="1901.7" y="1853.7" font-size="64" font-weight="normal" text-anchor="middle" fill="#000" stroke="#000" stroke-width="0.6">*</text>
<line x1="1615.0" y1="1965.2" x2="2043.0" y2="1965.2" stroke="#383838" stroke-width="3.4"/>
<text x="1827.1" y="1969.0" font-size="64" font-weight="normal" text-anchor="middle" fill="#000" letter-spacing="-2" stroke="#000" stroke-width="0.6">**</text>
<line x1="1618.7" y1="2123.3" x2="1827.6" y2="2123.3" stroke="#404040" stroke-width="3.2"/>
<text x="1702.2" y="2116.7" font-size="64" font-weight="normal" text-anchor="middle" fill="#000" stroke="#000" stroke-width="0.6">*</text>
</g>
</svg>
</body>
</html>
